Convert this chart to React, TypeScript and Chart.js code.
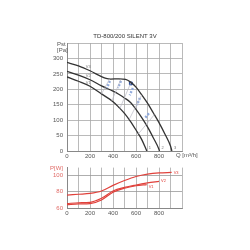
import React, { useEffect, useRef } from "react";
import { Chart, registerables } from "chart.js";

Chart.register(...registerables);

// Fan curves for TD-800/200 SILENT 3V (three speeds)
const chartTitle = "TD-800/200 SILENT 3V";
const flowMax = 1000;
const flowLabelTicks = [0, 200, 400, 600, 800];
const pressureTicks = [0, 50, 100, 150, 200, 250, 300];
const powerTicks = [60, 70, 80, 90, 100];

// Static pressure [Pa] vs flow [m3/h]
const v3Flow = [0, 100, 200, 300, 340, 380, 450, 510, 550, 600, 650, 700, 750, 800, 850, 900, 912];
const v3Pressure = [287, 276, 260, 241, 235, 233, 234, 232, 224, 207, 182, 155, 124, 92, 56, 16, 0];
const v2Flow = [0, 100, 200, 300, 400, 450, 500, 550, 600, 650, 700, 750, 800, 804];
const v2Pressure = [258, 246, 231, 211, 194, 184, 172, 158, 135, 108, 78, 43, 5, 0];
const v1Flow = [0, 100, 200, 300, 400, 450, 500, 550, 600, 650, 694];
const v1Pressure = [240, 226, 210, 185, 160, 142, 122, 97, 68, 37, 0];

// Power [W] vs flow [m3/h]
const v3PowerFlow = [0, 100, 200, 300, 400, 500, 600, 700, 800, 910];
const v3Power = [76, 77, 78, 81, 88, 94, 99, 102, 103.5, 104];
const v2PowerFlow = [0, 100, 200, 300, 400, 500, 600, 700, 800];
const v2Power = [65.5, 66.5, 67, 72, 81, 85.5, 88.5, 91, 93];
const v1PowerFlow = [0, 100, 200, 300, 400, 500, 600, 693];
const v1Power = [64, 65, 65.5, 70, 79.5, 84.5, 87.5, 89];

// Highlighted system-line segments (flow start/end, pressure start/end)
const sysFlowStart = [373, 469, 573, 634, 712];
const sysFlowEnd = [347, 443, 546, 608, 677];
const sysPressureStart = [227, 227, 204, 172, 122];
const sysPressureEnd = [204, 204, 181, 149, 106];

// Thin system lines from the top curve to the lowest curve
const sysLineTopFlow = [370, 470, 555, 650, 760];
const sysLineTopPressure = [233, 233, 221, 182, 118];
const sysLineLowFlow = [300, 390, 460, 540, 620];
const sysLineLowPressure = [185, 163, 138, 102, 55];

// Duty point
const dutyFlow = [555];
const dutyPressure = [219];

const speedLabels = ["V3", "V2", "V1"];

const FONT = "'Liberation Sans', Arial, sans-serif";

const pts = (xs: number[], ys: number[]) => xs.map((x, i) => ({ x, y: ys[i] }));

function curve(data: { x: number; y: number }[], color: string, width = 1.3) {
  return {
    type: "line" as const,
    data,
    borderColor: color,
    borderWidth: width,
    pointRadius: 0,
    tension: 0.4,
    cubicInterpolationMode: "monotone" as const,
    fill: false,
  };
}

function textPlugin(id: string, draw: (chart: any, ctx: CanvasRenderingContext2D) => void) {
  return {
    id,
    afterDraw(chart: any) {
      const ctx = chart.ctx as CanvasRenderingContext2D;
      ctx.save();
      draw(chart, ctx);
      ctx.restore();
    },
  };
}

function flowAxis(height: number) {
  return {
    type: "linear" as const,
    min: 0,
    max: flowMax,
    afterBuildTicks(scale: any) {
      const t = [];
      for (let v = 0; v <= flowMax; v += 100) t.push({ value: v });
      scale.ticks = t;
    },
    afterFit(scale: any) {
      scale.height = height;
    },
    ticks: {
      autoSkip: false,
      maxRotation: 0,
      padding: 2,
      color: "#555",
      font: { size: 6, family: FONT },
      callback: (v: any) => (flowLabelTicks.includes(Number(v)) ? String(v) : ""),
    },
    grid: { color: "#a8a8a8", lineWidth: 0.8, drawTicks: false },
    border: { color: "#888", width: 1 },
  };
}

function PressureChart() {
  const ref = useRef<HTMLCanvasElement>(null);
  useEffect(() => {
    if (!ref.current) return;
    const system: any[] = [];
    sysLineTopFlow.forEach((f, i) => {
      system.push({
        ...curve(pts([f, sysLineLowFlow[i]], [sysLineTopPressure[i], sysLineLowPressure[i]]), "#b8b8c4", 0.7),
        tension: 0,
      });
    });
    sysFlowStart.forEach((f, i) => {
      system.push({
        ...curve(pts([f, sysFlowEnd[i]], [sysPressureStart[i], sysPressureEnd[i]]), "#8fa9dc", 2.4),
        tension: 0,
        borderDash: [2, 1.5],
      });
    });
    const chart = new Chart(ref.current, {
      type: "line",
      data: {
        datasets: [
          ...system,
          curve(pts(v3Flow, v3Pressure), "#333"),
          curve(pts(v2Flow, v2Pressure), "#333"),
          curve(pts(v1Flow, v1Pressure), "#333"),
          {
            type: "scatter",
            data: pts(dutyFlow, dutyPressure),
            pointStyle: "rect",
            pointRadius: 2,
            backgroundColor: "#2a4f9e",
            borderColor: "#2a4f9e",
          },
        ],
      },
      options: {
        responsive: false,
        animation: false,
        devicePixelRatio: 1,
        layout: { padding: { top: 43, right: 68, left: 0, bottom: 0 } },
        plugins: { legend: { display: false }, tooltip: { enabled: false }, title: { display: false } },
        scales: {
          x: flowAxis(9),
          y: {
            type: "linear",
            min: 0,
            max: 350,
            afterBuildTicks(scale: any) {
              scale.ticks = [...pressureTicks, 350].map((value) => ({ value }));
            },
            afterFit(scale: any) {
              scale.width = 67;
            },
            ticks: {
              padding: 4,
              color: "#555",
              font: { size: 6, family: FONT },
              callback: (v: any) => (pressureTicks.includes(Number(v)) ? String(v) : ""),
            },
            grid: { color: "#a8a8a8", lineWidth: 0.8, drawTicks: false },
            border: { color: "#888", width: 1 },
          },
        },
      },
      plugins: [
        textPlugin("pressureText", (c, ctx) => {
          const a = c.chartArea;
          const xs = c.scales.x;
          const ys = c.scales.y;
          ctx.fillStyle = "#333";
          ctx.font = `6px ${FONT}`;
          ctx.textAlign = "center";
          ctx.textBaseline = "middle";
          ctx.fillText(chartTitle, 125, 36);
          ctx.fillStyle = "#555";
          ctx.textAlign = "left";
          ctx.fillText("Pst", 57, 44);
          ctx.fillText("[Pa]", 57, 50);
          ctx.fillText("Q [m³/h]", a.right - 6, 155.5);
          ctx.font = `4px ${FONT}`;
          ctx.fillStyle = "#777";
          const lx = 190;
          [
            [v3Flow, v3Pressure],
            [v2Flow, v2Pressure],
            [v1Flow, v1Pressure],
          ].forEach(([f, p], i) => {
            let y = 0;
            for (let k = 1; k < f.length; k++) {
              if (f[k] >= lx) {
                const t = (lx - f[k - 1]) / (f[k] - f[k - 1]);
                y = p[k - 1] + t * (p[k] - p[k - 1]);
                break;
              }
            }
            ctx.fillText(speedLabels[i], xs.getPixelForValue(lx) - 3, ys.getPixelForValue(y) - 3);
            ctx.fillText(String(3 - i), xs.getPixelForValue(f[f.length - 1]) + 2, ys.getPixelForValue(0) - 3);
          });
        }),
      ],
    } as any);
    return () => chart.destroy();
  }, []);
  return <canvas ref={ref} width={250} height={160} style={{ position: "absolute", left: 0, top: 0 }} />;
}

function PowerChart() {
  const ref = useRef<HTMLCanvasElement>(null);
  useEffect(() => {
    if (!ref.current) return;
    const chart = new Chart(ref.current, {
      type: "line",
      data: {
        datasets: [
          curve(pts(v3PowerFlow, v3Power), "#e0413b", 1.2),
          curve(pts(v2PowerFlow, v2Power), "#e0413b", 1.2),
          curve(pts(v1PowerFlow, v1Power), "#e0413b", 1.2),
        ],
      },
      options: {
        responsive: false,
        animation: false,
        devicePixelRatio: 1,
        layout: { padding: { top: 5, right: 68, left: 0, bottom: 0 } },
        plugins: { legend: { display: false }, tooltip: { enabled: false } },
        scales: {
          x: flowAxis(12),
          y: {
            type: "linear",
            min: 60,
            max: 110,
            afterBuildTicks(scale: any) {
              scale.ticks = [...powerTicks, 110].map((value) => ({ value }));
            },
            afterFit(scale: any) {
              scale.width = 67;
            },
            ticks: {
              padding: 4,
              color: "#e06a66",
              font: { size: 6, family: FONT },
              callback: (v: any) => (powerTicks.includes(Number(v)) ? String(v) : ""),
            },
            grid: { color: "#999", lineWidth: 0.8, drawTicks: false },
            border: { color: "#888", width: 1 },
          },
        },
      },
      plugins: [
        textPlugin("powerText", (c, ctx) => {
          const a = c.chartArea;
          const xs = c.scales.x;
          const ys = c.scales.y;
          ctx.font = `6px ${FONT}`;
          ctx.textBaseline = "middle";
          ctx.fillStyle = "#e06a66";
          ctx.textAlign = "right";
          ctx.fillText("P[W]", 63, a.top + 1);
          ctx.fillStyle = "#555";
          ctx.textAlign = "left";
          ctx.fillText("Q [m³/h]", a.right - 6, 213);
          ctx.font = `4px ${FONT}`;
          ctx.fillStyle = "#e0413b";
          [
            [v3PowerFlow, v3Power],
            [v2PowerFlow, v2Power],
            [v1PowerFlow, v1Power],
          ].forEach(([f, p], i) => {
            const n = f.length - 1;
            ctx.fillText(speedLabels[i], xs.getPixelForValue(f[n]) + 2, ys.getPixelForValue(p[n]) + (i === 2 ? 2 : 0));
          });
        }),
      ],
    } as any);
    return () => chart.destroy();
  }, []);
  return <canvas ref={ref} width={250} height={60} style={{ position: "absolute", left: 0, top: 160 }} />;
}

export default function App() {
  return (
    <div style={{ position: "absolute", left: 0, top: 0, width: 250, height: 250, background: "#fff" }}>
      <PressureChart />
      <PowerChart />
    </div>
  );
}
